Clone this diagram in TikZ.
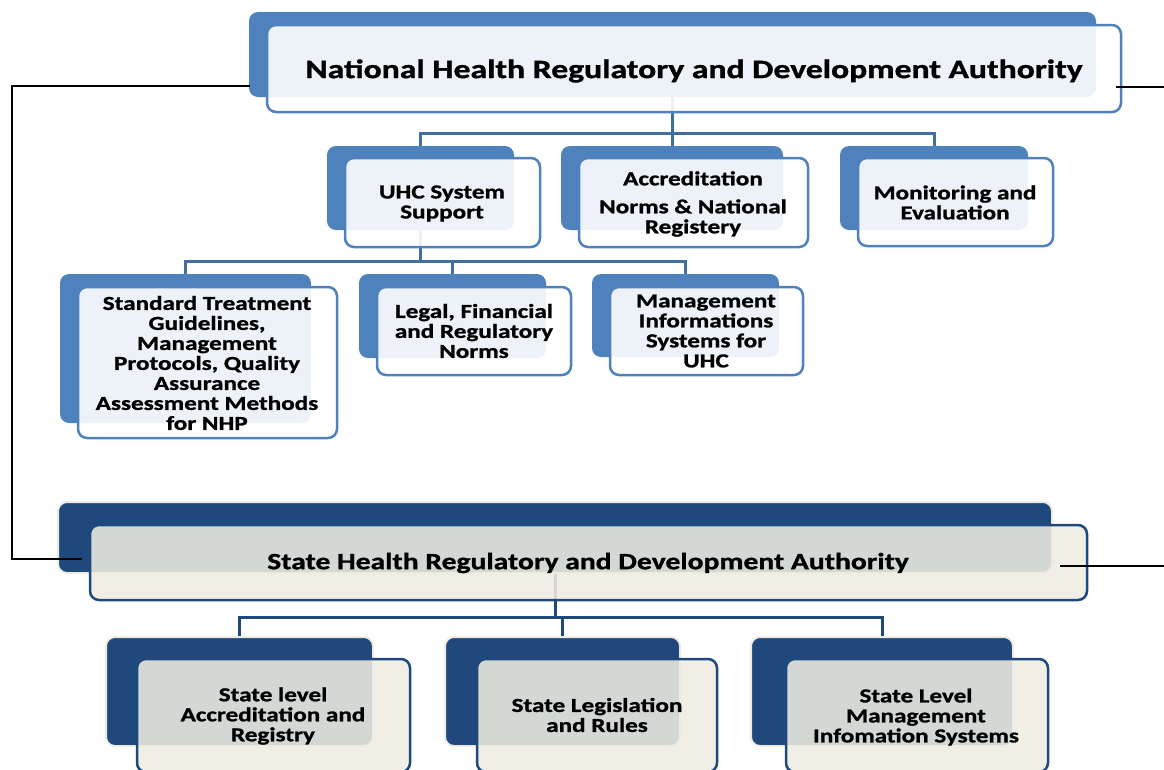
\documentclass[tikz,border=0pt]{standalone}
\usepackage{fontspec}
\setmainfont{Carlito}[FakeStretch=1.27, BoldFeatures={FakeBold=1.2}]
\usetikzlibrary{fit}
\definecolor{nb}{HTML}{4F81BD}
\definecolor{nc}{HTML}{41709F}
\definecolor{sb}{HTML}{1F497D}
\definecolor{sf}{HTML}{EEECE1}
\begin{document}
\begin{tikzpicture}[x=1pt,y=-1pt,
 natback/.style={fill=nb, rounded corners=9pt, inner sep=0pt},
 natfront/.style={draw=nb, line width=2.5pt, fill=white, fill opacity=0.9, rounded corners=9pt, inner sep=0pt},
 stback/.style={fill=sb, draw=sf, line width=2pt, rounded corners=9pt, inner sep=0pt},
 stfront/.style={draw=sb, line width=2.5pt, fill=sf, fill opacity=0.88, rounded corners=9pt, inner sep=0pt},
 txt/.style={font=\bfseries\fontsize{19.8}{20}\selectfont, align=center, text=black, inner sep=0pt},
 ncon/.style={draw=nc, line width=3pt},
 scon/.style={draw=sb, line width=3pt},
 link/.style={draw=black, line width=1.5pt}]
\useasboundingbox (0,0) rectangle (1164,769);

% ---------- back rectangles ----------
\node[natback, fit={(249,12) (1096,97)}] (topB) {};
\node[natback, fit={(327,146) (514,230)}] (uhcB) {};
\node[natback, fit={(561,146) (783,230)}] (accB) {};
\node[natback, fit={(840,146) (1028,230)}] (monB) {};
\node[natback, fit={(60,274) (311,423)}] (stgB) {};
\node[natback, fit={(359,274) (546,358)}] (legB) {};
\node[natback, fit={(592,274) (779,357)}] (misB) {};
\node[stback, fit={(58,502) (1052,573)}] (stateB) {};
\node[stback, fit={(106,637) (373,746)}] (sl1B) {};
\node[stback, fit={(445,637) (680,746)}] (sl2B) {};
\node[stback, fit={(751,637) (1013,746)}] (sl3B) {};

% ---------- connectors ----------
\coordinate (j1) at (672,133);
\draw[ncon] (topB.south) -- (topB.south |- j1);
\draw[ncon] (uhcB.north) |- (j1) -| (monB.north);
\draw[ncon] (accB.north) -- (accB.north |- j1);
\coordinate (j2) at (420,261);
\draw[ncon] (uhcB.south) -- (uhcB.south |- j2);
\draw[ncon] (stgB.north) |- (j2) -| (misB.north);
\draw[ncon] (legB.north) -- (legB.north |- j2);
\coordinate (j3) at (555,617);
\draw[scon] (stateB.south) -- (stateB.south |- j3);
\draw[scon] (sl1B.north) |- (j3) -| (sl3B.north);
\draw[scon] (sl2B.north) -- (sl2B.north |- j3);

% ---------- front rectangles ----------
\node[natfront, fit={(267,25) (1121,112)}] (topF) {};
\node[natfront, fit={(345,158) (540,247)}] (uhcF) {};
\node[natfront, fit={(579,158) (808,247)}] (accF) {};
\node[natfront, fit={(858,158) (1053,246)}] (monF) {};
\node[natfront, fit={(78,287) (337,438)}] (stgF) {};
\node[natfront, fit={(377,287) (571,375)}] (legF) {};
\node[natfront, fit={(610,287) (803,375)}] (misF) {};
\node[stfront, fit={(90,525) (1087,600)}] (stateF) {};
\node[stfront, fit={(137,659) (410,772)}] (sl1F) {};
\node[stfront, fit={(477,659) (717,772)}] (sl2F) {};
\node[stfront, fit={(786,659) (1048,772)}] (sl3F) {};

% ---------- texts ----------
\node[txt, font=\bfseries\fontsize{26.5}{28}\selectfont] (topT) at (694,71) {National Health Regulatory and Development Authority};
\node[txt] (uhcT) at (442,203.5) {UHC System\\Support};
\node[txt] (accT) at (693,204) {Accreditation\\[8pt]Norms \& National\\Registery};
\node[txt] (monT) at (955,202.5) {Monitoring and\\Evaluation};
\node[txt] (stgT) at (207,363) {Standard Treatment\\Guidelines,\\Management\\Protocols, Quality\\Assurance\\Assessment Methods\\for NHP};
\node[txt] (legT) at (474,331) {Legal, Financial\\and Regulatory\\Norms};
\node[txt] (misT) at (706,331) {Management\\Informations\\Systems for\\UHC};
\node[txt, font=\bfseries\fontsize{23.3}{24}\selectfont] (stateT) at (588,563) {State Health Regulatory and Development Authority};
\node[txt] (sl1T) at (273,716) {State level\\Accreditation and\\Registry};
\node[txt] (sl2T) at (597,715) {State Legislation\\and Rules};
\node[txt] (sl3T) at (916,717) {State Level\\Management\\Infomation Systems};

% ---------- black links ----------
\coordinate (a1) at (250,86);
\coordinate (a2) at (12,86);
\coordinate (a3) at (82,559);
\coordinate (a4) at (1116,87);
\coordinate (a5) at (1164,87);
\coordinate (a6) at (1060,566);
\coordinate (a7) at (1164,566);
\draw[link] (a1) -- (a2) |- (a3);
\draw[link] (a4) -- (a5);
\draw[link] (a6) -- (a7);
\end{tikzpicture}
\end{document}
